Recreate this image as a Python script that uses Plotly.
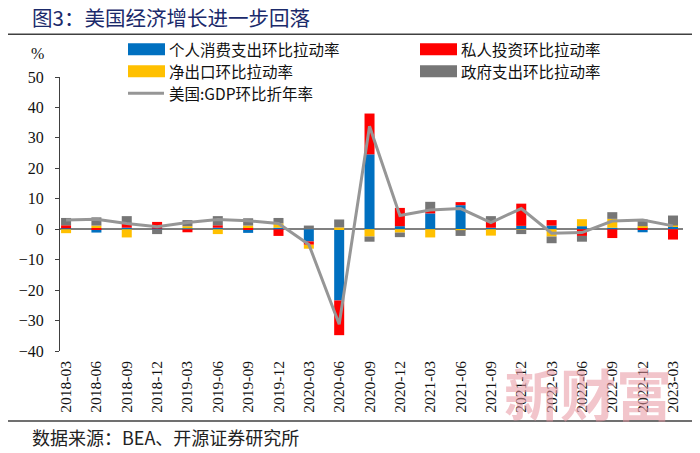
import plotly.graph_objects as go

dates = ["2018-03", "2018-06", "2018-09", "2018-12", "2019-03", "2019-06", "2019-09",
         "2019-12", "2020-03", "2020-06", "2020-09", "2020-12", "2021-03", "2021-06",
         "2021-09", "2021-12", "2022-03", "2022-06", "2022-09", "2022-12", "2023-03"]
pce = [0.3, -1.1, 0.5, 0.2, 0.3, 0.5, -1.2, 0.5, -4.0, -23.4, 24.6, 1.0, 5.2, 7.9,
       0.5, 1.1, 1.2, 1.0, 0.5, -1.0, 1.0]
inv = [1.0, 0.4, 1.3, 2.2, -1.0, 0.8, 0.6, -2.2, -1.1, -11.4, 13.4, 6.0, 1.1, 1.0,
       2.0, 7.3, 1.8, -2.2, -2.9, 0.6, -3.4]
nx = [-1.3, 0.8, -2.7, 0.0, 0.7, -1.6, 0.6, 1.4, -1.3, 0.6, -2.4, -1.1, -2.7, -0.3,
      -2.1, -0.1, -2.4, 2.3, 2.9, 0.4, 0.2]
gov = [2.4, 2.7, 2.5, -1.6, 2.0, 3.0, 2.4, 1.8, 1.2, 2.6, -1.7, -1.5, 2.7, -1.9,
       1.8, -1.5, -2.2, -1.9, 2.2, 2.2, 3.3]
gdp = [3.0, 3.3, 1.9, 0.8, 2.2, 3.2, 2.8, 1.9, -5.0, -31.2, 33.8, 4.5, 6.3, 6.8,
       2.2, 6.8, -1.3, -1.1, 2.7, 3.0, 1.1]

names = ["个人消费支出环比拉动率", "私人投资环比拉动率", "净出口环比拉动率", "政府支出环比拉动率"]
line_name = "美国:GDP环比折年率"
colors = ["#0070C0", "#FF0000", "#FFC000", "#767676"]
line_color = "#969696"

W, H = 700, 453
L, R, T, B = 60, 683, 76.7, 351

def px(x):
    return (x - L) / (R - L)

def py(y):
    return (B - y) / (B - T)

SERIF = "Liberation Serif, Times New Roman, serif"
CJK = "Noto Sans CJK SC, sans-serif"

fig = go.Figure()
for vals, nm, c in zip([pce, inv, nx, gov], names, colors):
    fig.add_trace(go.Bar(x=dates, y=vals, name=nm, marker=dict(color=c, line=dict(width=0)),
                         showlegend=False))
fig.add_trace(go.Scatter(x=dates, y=gdp, name=line_name, mode="lines",
                         line=dict(color=line_color, width=3), showlegend=False))

shapes = []
annotations = []

# title and separators
annotations.append(dict(text="图3：美国经济增长进一步回落", x=px(30), y=py(17), xref="paper", yref="paper",
                        xanchor="left", yanchor="middle", showarrow=False,
                        font=dict(family=CJK, size=20.5, color="#1B2A6B")))
shapes.append(dict(type="line", xref="paper", yref="paper", x0=px(8), x1=px(692), y0=py(34), y1=py(34),
                   line=dict(color="#404040", width=1.5)))
shapes.append(dict(type="line", xref="paper", yref="paper", x0=px(8), x1=px(692), y0=py(421), y1=py(421),
                   line=dict(color="#404040", width=1.5)))
annotations.append(dict(text="数据来源：BEA、开源证券研究所", x=px(30), y=py(437), xref="paper", yref="paper",
                        xanchor="left", yanchor="middle", showarrow=False,
                        font=dict(family=CJK, size=18, color="#222222")))

# legend (manual)
leg = [(128, 49, colors[0], names[0]), (420, 49, colors[1], names[1]),
       (128, 71, colors[2], names[2]), (420, 71, colors[3], names[3])]
for x0, yc, c, nm in leg:
    shapes.append(dict(type="rect", xref="paper", yref="paper", x0=px(x0), x1=px(x0 + 37),
                       y0=py(yc + 6), y1=py(yc - 6), fillcolor=c, line=dict(width=0)))
    annotations.append(dict(text=nm, x=px(x0 + 39), y=py(yc), xref="paper", yref="paper",
                            xanchor="left", yanchor="middle", showarrow=False,
                            font=dict(family=CJK, size=15.5, color="#111111")))
shapes.append(dict(type="line", xref="paper", yref="paper", x0=px(128), x1=px(164), y0=py(93), y1=py(93),
                   line=dict(color=line_color, width=3)))
annotations.append(dict(text=line_name, x=px(167), y=py(93), xref="paper", yref="paper",
                        xanchor="left", yanchor="middle", showarrow=False,
                        font=dict(family=CJK, size=15.5, color="#111111")))

annotations.append(dict(text="%", x=px(37), y=py(53), xref="paper", yref="paper",
                        xanchor="center", yanchor="middle", showarrow=False,
                        font=dict(family=SERIF, size=16, color="#111111")))

# watermark
annotations.append(dict(text="<b>新财富</b>", x=px(588), y=py(392), xref="paper", yref="paper",
                        xanchor="center", yanchor="middle", showarrow=False,
                        font=dict(family=CJK, size=56, color="rgba(232,150,160,0.55)")))

fig.update_layout(
    width=W, height=H,
    margin=dict(l=L, r=W - R, t=T, b=H - B, pad=0),
    paper_bgcolor="white", plot_bgcolor="white",
    barmode="relative", bargap=0.67,
    shapes=shapes, annotations=annotations,
    xaxis=dict(type="category", range=[-0.2, 20.33], tickangle=-90, showline=False, showgrid=False,
               ticks="", tickfont=dict(family=SERIF, size=15.5, color="#111111"),
               ticklabelstandoff=6, zeroline=False),
    yaxis=dict(range=[-40, 50], dtick=10, showgrid=False, showline=True, linecolor="#404040",
               linewidth=1, ticks="outside", ticklen=4, tickcolor="#404040",
               tickfont=dict(family=SERIF, size=16, color="#111111"), ticklabelstandoff=8,
               zeroline=True, zerolinecolor="#808080", zerolinewidth=2),
)

fig.write_html("out.html", config={"displayModeBar": False},
               post_script="document.body.style.margin='0px';document.body.style.padding='0px';")
